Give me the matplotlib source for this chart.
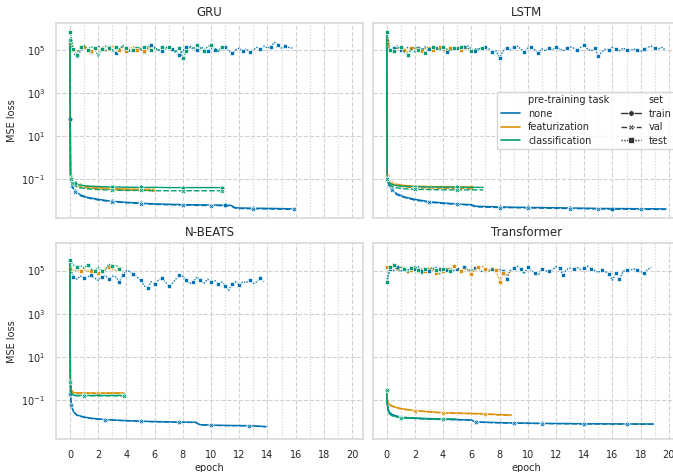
import matplotlib
matplotlib.use("Agg")
import matplotlib.pyplot as plt
import numpy as np
import seaborn as sns
from matplotlib.lines import Line2D
from matplotlib.ticker import MultipleLocator, FixedLocator, NullLocator

# test loss is logged every quarter epoch, values in units of 1e5
TEST_STEP = 0.25
TEST_UNIT = 1e5

models = ["GRU", "LSTM", "N-BEATS", "Transformer"]
tasks = ["none", "featurization", "classification"]
sets = ["train", "val", "test"]

# ---- GRU ----
gru_none_ep = [0, 0.04, 0.15, 0.35, 0.7, 1.2, 2, 3, 4, 5, 6, 7, 8, 9, 10, 11, 11.4, 11.7, 12, 13, 14, 15, 15.9]
gru_none_train = [60, 0.12, 0.05, 0.03, 0.02, 0.015, 0.012, 0.0098, 0.0088, 0.008, 0.0074, 0.0071, 0.0069,
                  0.0067, 0.0066, 0.0065, 0.0064, 0.005, 0.0048, 0.0047, 0.0046, 0.0045, 0.0044]
gru_none_val = [1.5e5, 0.1, 0.045, 0.027, 0.018, 0.014, 0.0112, 0.0092, 0.0083, 0.0076, 0.007, 0.0067, 0.0065,
                0.0063, 0.0062, 0.0061, 0.006, 0.0047, 0.0045, 0.0044, 0.0043, 0.0042, 0.0041]
gru_none_test = [1.4, 0.7, 0.5, 0.9, 1.3, 1.0, 0.8, 1.2, 1.5, 1.1, 0.9, 1.3, 1.0, 0.7, 1.1, 1.4, 1.2, 0.9, 1.0, 1.3,
                 1.1, 0.8, 1.2, 1.6, 1.3, 1.0, 0.9, 1.2, 1.4, 1.1, 0.8, 0.6, 0.9, 1.3, 1.5, 1.2, 1.0, 1.4, 1.1, 0.9,
                 1.2, 1.0, 0.8, 1.1, 1.3, 0.9, 0.7, 1.0, 1.2, 0.9, 1.1, 0.8, 1.0, 1.3, 1.1, 1.5, 1.2, 1.4, 2.2, 1.6,
                 1.2, 1.5, 1.3, 1.2]
gru_feat_ep = [0, 0.04, 0.15, 0.35, 0.7, 1.2, 2, 3, 4, 5, 5.9]
gru_feat_train = [2e5, 0.15, 0.09, 0.07, 0.055, 0.047, 0.042, 0.038, 0.036, 0.035, 0.035]
gru_feat_val = [2e5, 0.13, 0.08, 0.06, 0.048, 0.041, 0.037, 0.034, 0.032, 0.031, 0.031]
gru_feat_test = [2.5, 1.0, 0.8, 1.2, 1.4, 1.1, 0.9, 1.3, 1.0, 1.2, 0.8, 1.1, 1.5, 1.2, 1.0, 1.3, 0.9, 1.1, 1.4, 1.0,
                 1.2, 0.9, 1.1, 1.3]
gru_cls_ep = [0, 0.04, 0.15, 0.35, 0.7, 1.2, 2, 3, 4, 5, 6, 7, 8, 9, 10, 10.8]
gru_cls_train = [3e5, 0.12, 0.08, 0.065, 0.055, 0.05, 0.047, 0.045, 0.044, 0.043, 0.043, 0.042, 0.042, 0.042,
                 0.042, 0.042]
gru_cls_val = [3e5, 0.1, 0.065, 0.05, 0.042, 0.037, 0.034, 0.032, 0.031, 0.031, 0.03, 0.03, 0.03, 0.03, 0.03, 0.03]
gru_cls_test = [7.0, 1.1, 0.6, 1.3, 1.6, 1.0, 1.4, 1.2, 0.5, 1.1, 1.5, 1.2, 0.9, 1.3, 1.1, 1.6, 1.2, 0.8, 1.0, 1.4,
                1.1, 1.3, 1.5, 1.0, 1.2, 0.9, 1.4, 1.1, 1.3, 1.0, 0.8, 1.2, 0.4, 0.9, 1.3, 1.1, 1.6, 1.2, 0.9, 1.4,
                1.7, 1.2, 0.9, 1.3]

# ---- LSTM ----
lstm_none_ep = [0, 0.04, 0.15, 0.35, 0.7, 1.2, 2, 3, 4, 5, 6, 6.3, 7, 8, 9, 10, 11, 12, 13, 14, 15, 16, 17, 18, 19,
                19.8]
lstm_none_train = [2e5, 0.12, 0.06, 0.035, 0.022, 0.016, 0.012, 0.0095, 0.0082, 0.0074, 0.0068, 0.0058, 0.0056,
                   0.0054, 0.0052, 0.0051, 0.005, 0.0049, 0.0048, 0.0047, 0.0046, 0.0045, 0.0045, 0.0044, 0.0044,
                   0.0043]
lstm_none_val = [2e5, 0.11, 0.055, 0.032, 0.02, 0.015, 0.011, 0.0088, 0.0077, 0.007, 0.0064, 0.0054, 0.0052, 0.005,
                 0.0049, 0.0048, 0.0047, 0.0046, 0.0045, 0.0044, 0.0043, 0.0042, 0.0042, 0.0041, 0.0041, 0.0041]
lstm_none_test = [1.3, 0.8, 1.2, 1.5, 1.0, 0.9, 1.3, 1.1, 0.8, 1.2, 1.0, 1.4, 1.1, 0.9, 1.2, 1.3, 1.0, 0.8, 1.1, 1.4,
                  1.2, 1.0, 1.3, 1.5, 1.1, 0.9, 1.2, 1.0, 1.3, 1.1, 0.8, 0.9, 0.4, 0.9, 1.2, 1.0, 1.3, 1.5, 1.1, 0.8,
                  1.2, 1.4, 1.0, 0.7, 1.1, 0.9, 1.2, 1.0, 1.3, 1.1, 0.9, 1.2, 1.4, 1.2, 1.0, 1.3, 1.6, 1.1, 0.9, 1.2,
                  0.5, 0.8, 1.1, 1.0, 1.3, 1.1, 0.9, 1.2, 1.0, 0.9, 1.1, 1.0, 0.8, 1.1, 1.3, 1.5, 1.2, 1.1, 1.3, 1.0]
lstm_feat_ep = [0, 0.04, 0.15, 0.35, 0.7, 1.2, 2, 3, 4, 5, 6.0]
lstm_feat_train = [3e5, 0.14, 0.09, 0.072, 0.06, 0.053, 0.049, 0.047, 0.046, 0.045, 0.045]
lstm_feat_val = [3e5, 0.12, 0.08, 0.062, 0.052, 0.046, 0.042, 0.04, 0.039, 0.038, 0.038]
lstm_feat_test = [1.8, 1.1, 0.9, 1.2, 1.3, 1.0, 0.8, 1.2, 1.1, 1.3, 0.9, 1.2, 1.4, 1.0, 1.1, 1.3, 0.9, 1.0, 1.2, 1.1,
                  1.3, 1.0, 1.2, 1.1]
lstm_cls_ep = [0, 0.04, 0.15, 0.35, 0.7, 1.2, 2, 3, 4, 5, 6, 6.85]
lstm_cls_train = [7e5, 0.12, 0.075, 0.06, 0.052, 0.048, 0.046, 0.045, 0.044, 0.044, 0.043, 0.043]
lstm_cls_val = [7e5, 0.1, 0.062, 0.048, 0.041, 0.037, 0.035, 0.034, 0.033, 0.033, 0.033, 0.033]
lstm_cls_test = [7.0, 1.0, 0.9, 1.2, 1.4, 0.8, 0.6, 1.1, 1.3, 1.0, 1.2, 0.7, 1.1, 1.3, 1.2, 1.0, 1.4, 1.1, 0.9, 1.2,
                 1.0, 1.3, 1.5, 1.2, 0.9, 1.1, 1.0, 1.2]

# ---- N-BEATS ----
nbeats_none_ep = [0, 0.03, 0.1, 0.25, 0.5, 1, 1.5, 2.5, 3.5, 5, 6, 7.7, 8.9, 9.2, 10, 11, 12, 12.7, 13.9]
nbeats_none_train = [3e5, 0.2, 0.06, 0.03, 0.021, 0.017, 0.015, 0.013, 0.012, 0.011, 0.0105, 0.01, 0.0098, 0.0076,
                     0.0072, 0.007, 0.0069, 0.0068, 0.0062]
nbeats_none_val = [3e5, 0.19, 0.058, 0.029, 0.02, 0.0165, 0.0145, 0.0126, 0.0117, 0.0107, 0.0102, 0.0097, 0.0095,
                   0.0074, 0.007, 0.0068, 0.0067, 0.0066, 0.006]
nbeats_none_test = [1.5, 0.5, 0.4, 0.55, 0.45, 0.5, 0.6, 0.45, 0.35, 0.5, 0.6, 0.4, 0.55, 0.5, 0.3, 0.6, 1.0, 0.9,
                    0.7, 0.5, 0.35, 0.2, 0.15, 0.3, 0.25, 0.35, 0.45, 0.3, 0.2, 0.25, 0.4, 0.6, 0.55, 0.35, 0.25,
                    0.3, 0.5, 0.35, 0.25, 0.4, 0.3, 0.35, 0.25, 0.3, 0.2, 0.12, 0.25, 0.3, 0.22, 0.3, 0.28, 0.35,
                    0.25, 0.3, 0.45, 0.3]
nbeats_feat_ep = [0, 0.03, 0.1, 0.25, 0.5, 1, 2, 3, 3.85]
nbeats_feat_train = [1.5e5, 1.0, 0.3, 0.23, 0.22, 0.22, 0.22, 0.22, 0.22]
nbeats_feat_val = [1.5e5, 0.9, 0.28, 0.22, 0.215, 0.215, 0.215, 0.215, 0.215]
nbeats_feat_test = [1.2, 1.0, 1.1, 1.0, 1.2, 0.9, 1.0, 1.1, 0.8, 1.0, 1.1, 1.4, 1.2, 1.0, 1.3, 0.8]
nbeats_cls_ep = [0, 0.03, 0.1, 0.25, 0.5, 1, 2, 3, 3.85]
nbeats_cls_train = [3e5, 0.8, 0.22, 0.175, 0.17, 0.17, 0.17, 0.17, 0.17]
nbeats_cls_val = [3e5, 0.7, 0.2, 0.165, 0.162, 0.162, 0.162, 0.162, 0.162]
nbeats_cls_test = [3.0, 1.8, 1.5, 1.7, 1.3, 1.8, 1.2, 1.0, 1.4, 0.9, 1.1, 2.0, 1.6, 1.8, 1.2, 1.5]

# ---- Transformer ----
tf_none_ep = [0, 0.04, 0.1, 0.2, 0.4, 0.7, 1, 2, 3, 4, 5, 6, 6.3, 7, 8, 9, 10, 11, 12, 13, 14, 15, 16, 17, 18, 18.9]
tf_none_train = [0.3, 0.08, 0.04, 0.028, 0.022, 0.019, 0.017, 0.015, 0.014, 0.0135, 0.013, 0.0125, 0.0102, 0.0098,
                 0.0094, 0.0091, 0.0089, 0.0087, 0.0086, 0.0085, 0.0083, 0.0083, 0.0082, 0.0082, 0.0081, 0.0081]
tf_none_val = [0.29, 0.077, 0.039, 0.027, 0.021, 0.018, 0.0165, 0.0146, 0.0136, 0.0131, 0.0126, 0.0121, 0.0099,
               0.0095, 0.0091, 0.0088, 0.0086, 0.0084, 0.0083, 0.0082, 0.0081, 0.0081, 0.008, 0.008, 0.0079, 0.0079]
tf_none_test = [0.3, 1.2, 1.0, 1.4, 0.9, 1.3, 1.1, 0.8, 1.2, 1.5, 1.0, 1.3, 0.9, 1.1, 1.4, 1.2, 0.8, 1.1, 1.3, 1.0,
                1.2, 0.9, 1.4, 1.1, 1.0, 1.3, 1.2, 0.9, 1.1, 1.0, 1.2, 0.8, 1.1, 1.0, 0.4, 1.0, 1.3, 1.6, 1.2, 0.7,
                1.5, 1.0, 0.8, 0.6, 1.2, 1.0, 0.9, 1.1, 1.5, 1.3, 0.6, 1.1, 1.3, 1.2, 1.4, 1.1, 1.3, 1.6, 1.2, 1.0,
                0.8, 1.1, 0.9, 0.7, 0.35, 0.8, 0.4, 0.9, 1.1, 1.0, 1.2, 1.1, 0.9, 0.8, 1.1, 1.4]
tf_feat_ep = [0, 0.04, 0.1, 0.2, 0.4, 0.7, 1, 2, 3, 4, 5, 6, 7, 8, 8.85]
tf_feat_train = [0.3, 0.12, 0.08, 0.065, 0.055, 0.047, 0.042, 0.034, 0.03, 0.027, 0.026, 0.025, 0.024, 0.022, 0.021]
tf_feat_val = [0.29, 0.115, 0.077, 0.062, 0.053, 0.045, 0.04, 0.033, 0.029, 0.026, 0.025, 0.024, 0.023, 0.021, 0.02]
tf_feat_test = [1.5, 1.3, 1.8, 1.0, 1.4, 1.2, 0.7, 1.1, 1.3, 0.9, 1.2, 1.0, 1.4, 1.1, 0.8, 1.2, 1.0, 1.3, 1.1, 1.6,
                1.2, 0.9, 1.3, 1.0, 0.7, 1.1, 1.4, 1.6, 1.2, 0.9, 1.3, 1.1, 0.3, 0.8, 0.6, 0.9]
tf_cls_ep = [0, 0.04, 0.1, 0.2, 0.4, 0.7, 1, 2, 3, 4, 4.9]
tf_cls_train = [0.3, 0.07, 0.035, 0.025, 0.02, 0.018, 0.016, 0.0152, 0.0145, 0.014, 0.0137]
tf_cls_val = [0.29, 0.067, 0.034, 0.024, 0.019, 0.0172, 0.0154, 0.0147, 0.014, 0.0135, 0.0132]
tf_cls_test = [0.3, 1.4, 1.8, 1.1, 1.5, 1.2, 0.8, 1.3, 1.6, 1.1, 0.7, 1.2, 1.0, 1.4, 1.1, 0.7, 1.2, 1.3, 0.9, 1.1]

# model -> task -> (epochs, train, val, test)
runs = {
    "GRU": {
        "none": (gru_none_ep, gru_none_train, gru_none_val, gru_none_test),
        "featurization": (gru_feat_ep, gru_feat_train, gru_feat_val, gru_feat_test),
        "classification": (gru_cls_ep, gru_cls_train, gru_cls_val, gru_cls_test),
    },
    "LSTM": {
        "none": (lstm_none_ep, lstm_none_train, lstm_none_val, lstm_none_test),
        "featurization": (lstm_feat_ep, lstm_feat_train, lstm_feat_val, lstm_feat_test),
        "classification": (lstm_cls_ep, lstm_cls_train, lstm_cls_val, lstm_cls_test),
    },
    "N-BEATS": {
        "none": (nbeats_none_ep, nbeats_none_train, nbeats_none_val, nbeats_none_test),
        "featurization": (nbeats_feat_ep, nbeats_feat_train, nbeats_feat_val, nbeats_feat_test),
        "classification": (nbeats_cls_ep, nbeats_cls_train, nbeats_cls_val, nbeats_cls_test),
    },
    "Transformer": {
        "none": (tf_none_ep, tf_none_train, tf_none_val, tf_none_test),
        "featurization": (tf_feat_ep, tf_feat_train, tf_feat_val, tf_feat_test),
        "classification": (tf_cls_ep, tf_cls_train, tf_cls_val, tf_cls_test),
    },
}

sns.set_theme(style="whitegrid", palette="colorblind")
plt.rcParams["font.family"] = ["DejaVu Sans"]

palette = sns.color_palette("colorblind")
task_colors = dict(zip(tasks, palette[:3]))
# linestyle, marker, marker spacing (fraction of axes diagonal)
set_styles = {
    "train": ("-", "o", 0.1),
    "val": ((0, (4, 1.5)), "X", 0.1),
    "test": ((0, (1, 1)), "s", 0.03),
}

W, H = 673, 472
# axes boxes in pixels: left, top, right, bottom
boxes = [
    (56, 22.7, 363.3, 218.3),
    (372.7, 22.7, 680, 218.3),
    (56, 243.3, 363.3, 439.3),
    (372.7, 243.3, 680, 439.3),
]


def series_for(model, task):
    ep, train, val, test = runs[model][task]
    test_ep = np.arange(len(test)) * TEST_STEP
    return {
        "train": (np.array(ep), np.array(train)),
        "val": (np.array(ep), np.array(val)),
        "test": (test_ep, np.array(test) * TEST_UNIT),
    }


def plot_grid():
    fig = plt.figure(figsize=(W / 100, H / 100), dpi=100)
    axes = []
    for l, t, r, b in boxes:
        rect = [l / W, 1 - b / H, (r - l) / W, (b - t) / H]
        if axes:
            ax = fig.add_axes(rect, sharex=axes[0], sharey=axes[0])
        else:
            ax = fig.add_axes(rect)
        axes.append(ax)

    for ax, model in zip(axes, models):
        for task in tasks:
            data = series_for(model, task)
            for s in sets:
                x, y = data[s]
                ls, mk, every = set_styles[s]
                ax.plot(x, y, color=task_colors[task], linestyle=ls, linewidth=1.0,
                        marker=mk, markersize=3.5, markeredgecolor="w", markeredgewidth=0.5,
                        markevery=every)
        ax.set_yscale("log")
        ax.set_title(model, fontsize=8.5, pad=5)

    for i, ax in enumerate(axes):
        ax.yaxis.set_major_locator(FixedLocator([1e-1, 1e1, 1e3, 1e5]))
        ax.yaxis.set_minor_locator(NullLocator())
        ax.xaxis.set_major_locator(MultipleLocator(2))
        ax.xaxis.set_minor_locator(MultipleLocator(1))
        ax.grid(which="major", linestyle="--", linewidth=0.8, color=".82")
        ax.grid(which="minor", axis="x", linestyle=":", linewidth=0.8, color=".82")
        ax.tick_params(labelsize=7, pad=2)
        for sp in ax.spines.values():
            sp.set_color(".85")
        if i < 2:
            ax.tick_params(labelbottom=False)
        else:
            ax.set_xlabel("epoch", fontsize=7, labelpad=2)
        if i % 2 == 1:
            ax.tick_params(labelleft=False)
        else:
            ax.set_ylabel("MSE loss", fontsize=7, labelpad=3)

    # legend in the LSTM panel, seaborn-like with sub-headings
    blank = Line2D([], [], linestyle="", marker="")
    handles = [blank] + [Line2D([], [], color=task_colors[t], linewidth=1.2) for t in tasks]
    labels = ["pre-training task"] + tasks
    handles += [blank] + [
        Line2D([], [], color=".2", linestyle=set_styles[s][0], linewidth=1.0, marker=set_styles[s][1],
               markersize=4, markeredgecolor="w", markeredgewidth=0.5)
        for s in sets
    ]
    labels += ["set"] + sets
    axes[1].legend(handles, labels, loc="center right", ncol=2, fontsize=7, frameon=True,
                   handlelength=2.0, columnspacing=1.2, borderpad=0.4, labelspacing=0.35)

    fig.savefig("out.png", dpi=100)


if __name__ == "__main__":
    plot_grid()
